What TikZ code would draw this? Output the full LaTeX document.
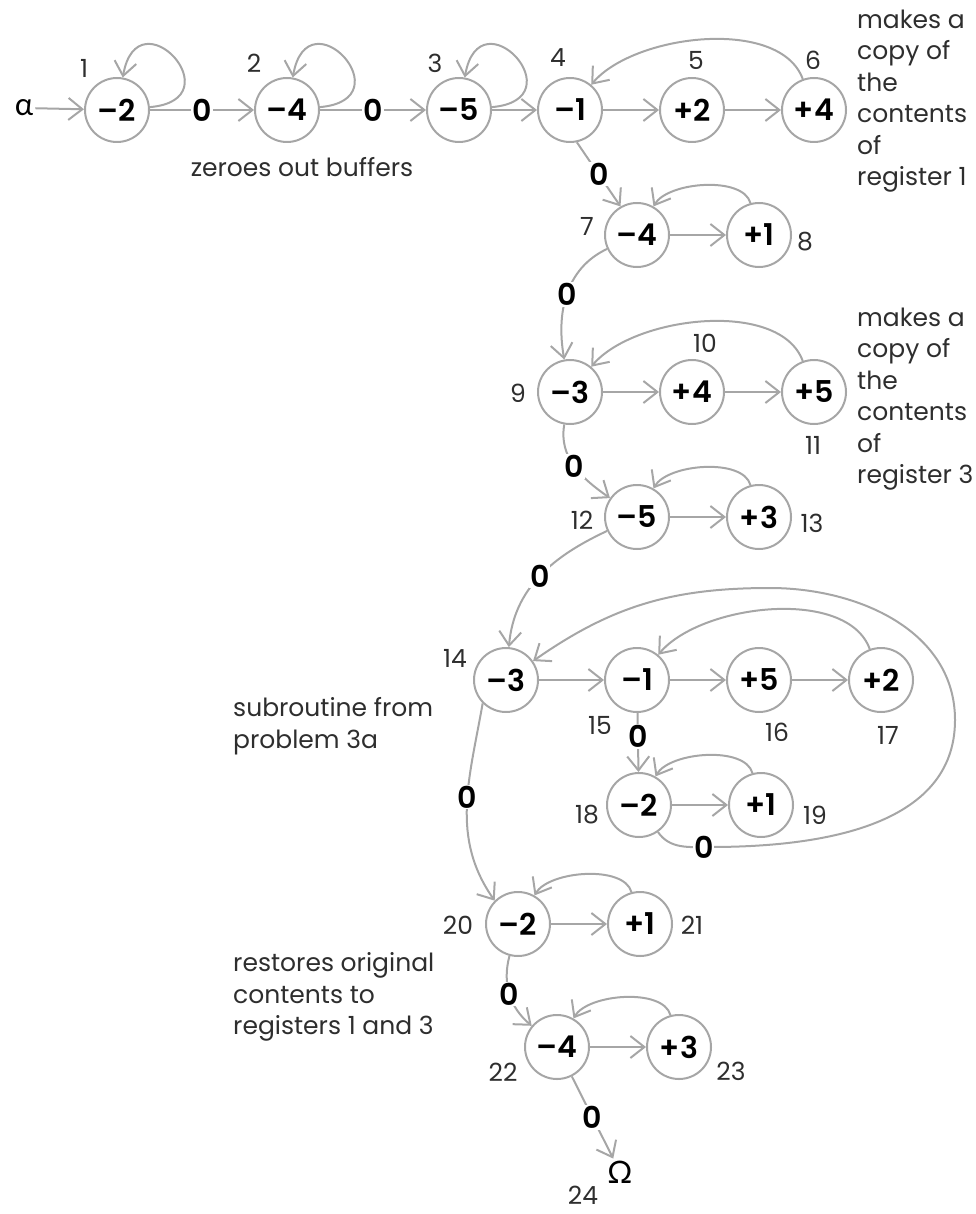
\documentclass[tikz,border=0pt]{standalone}
\usepackage{fontspec}
\setmainfont{Poppins}
\newfontfamily\semib{Poppins SemiBold}
\newfontfamily\greekf{Lato}
\usetikzlibrary{positioning,arrows.meta}
\definecolor{linegray}{HTML}{A6A6A6}
\definecolor{darktext}{HTML}{2E2E2E}

\begin{document}
\begin{tikzpicture}[x=1pt, y=-1pt, node distance=56pt,
    reg/.style={circle, draw=linegray, line width=2pt, minimum size=64pt, inner sep=0pt, font=\semib\fontsize{30}{30}\selectfont},
    num/.style={text=darktext, inner sep=0pt, font=\fontsize{25}{25}\selectfont},
    note/.style={text=darktext, inner sep=0pt, align=left, anchor=west, font=\fontsize{25}{31.5}\selectfont},
    zero/.style={fill=white, inner sep=1pt, font=\semib\fontsize{30}{30}\selectfont},
    greek/.style={inner sep=2pt, font=\greekf\fontsize{31}{31}\selectfont},
    arr/.style={draw=linegray, line width=2pt, -{Straight Barb[length=14pt,width=22pt]}}]
  \useasboundingbox (0,0) rectangle (976,1214);

  \node[greek] (alpha) at (24,108) {α};
  \node[reg] (n1) at (117,110) {–2};
  \node[reg] (n2) at (287,110) {–4};
  \node[reg] (n3) at (459,110) {–5};
  \node[reg] (n4) at (570,110) {–1};
  \node[reg, right=of n4] (n5) {+2};
  \node[reg, right=of n5] (n6) {+4};
  \node[reg] (n7) at (637,235) {–4};
  \node[reg, right=of n7] (n8) {+1};
  \node[reg] (n9) at (570,392) {–3};
  \node[reg, right=of n9] (n10) {+4};
  \node[reg, right=of n10] (n11) {+5};
  \node[reg] (n12) at (637,517) {–5};
  \node[reg, right=of n12] (n13) {+3};
  \node[reg] (n14) at (506,680) {–3};
  \node[reg] (n15) at (637,680) {–1};
  \node[reg, right=of n15] (n16) {+5};
  \node[reg, right=of n16] (n17) {+2};
  \node[reg] (n18) at (639,805) {–2};
  \node[reg, right=of n18] (n19) {+1};
  \node[reg] (n20) at (518,924) {–2};
  \node[reg, right=of n20] (n21) {+1};
  \node[reg] (n22) at (557,1047) {–4};
  \node[reg, right=of n22] (n23) {+3};
  \node[greek] (omega) at (620,1172) {Ω};

  \node[num] (l1) at (84,68) {1};
  \node[num] (l2) at (254,63) {2};
  \node[num] (l3) at (435,63) {3};
  \node[num] (l4) at (558,58) {4};
  \node[num] (l5) at (696,60) {5};
  \node[num] (l6) at (813,60) {6};
  \node[num] (l7) at (587,226) {7};
  \node[num] (l8) at (805,242) {8};
  \node[num] (l9) at (518,393) {9};
  \node[num] (l10) at (705,343) {10};
  \node[num] (l11) at (813,445) {11};
  \node[num] (l12) at (582,520) {12};
  \node[num] (l13) at (812,523) {13};
  \node[num] (l14) at (455,658) {14};
  \node[num] (l15) at (600,725) {15};
  \node[num] (l16) at (777,732) {16};
  \node[num] (l17) at (888,735) {17};
  \node[num] (l18) at (587,815) {18};
  \node[num] (l19) at (815,815) {19};
  \node[num] (l20) at (458,925) {20};
  \node[num] (l21) at (692,925) {21};
  \node[num] (l22) at (503,1072) {22};
  \node[num] (l23) at (731,1071) {23};
  \node[num] (l24) at (583,1195) {24};

  \node[note, anchor=center] (zeroes) at (302,167) {zeroes out buffers};
  \node[note] (copy1) at (857,101) {makes a\\copy of\\the\\contents\\of\\register 1};
  \node[note] (copy3) at (857,399) {makes a\\copy of\\the\\contents\\of\\register 3};
  \node[note] (subr) at (233,726) {subroutine from\\problem 3a};
  \node[note] (restore) at (233,997) {restores original\\contents to\\registers 1 and 3};

  \coordinate (lpb) at (710,847);
  \coordinate (lpr) at (955,720);
  \coordinate (lpt) at (770,588);

  % zeroing the buffers
  \draw[arr] (alpha) -- (n1);
  \draw[arr] (n1) to[out=5, in=80, looseness=5.5] (n1);
  \draw[arr] (n1) -- node[zero] {0} (n2);
  \draw[arr] (n2) to[out=5, in=80, looseness=5.5] (n2);
  \draw[arr] (n2) -- node[zero] {0} (n3);
  \draw[arr] (n3) to[out=5, in=80, looseness=5.5] (n3);
  \draw[arr] (n3) -- (n4);

  % copy of register 1
  \draw[arr] (n4) -- (n5);
  \draw[arr] (n5) -- (n6);
  \draw[arr] (n6) to[out=110, in=50, looseness=0.8] (n4);
  \draw[arr] (n4.-78) -- node[zero] {0} (n7.120);
  \draw[arr] (n7) -- (n8);
  \draw[arr] (n8) to[out=105, in=60, looseness=0.75] (n7);
  \draw[arr] (n7) to[out=205, in=100] node[zero] {0} (n9);

  % copy of register 3
  \draw[arr] (n9) -- (n10);
  \draw[arr] (n10) -- (n11);
  \draw[arr] (n11) to[out=110, in=50, looseness=0.8] (n9);
  \draw[arr] (n9) to[out=260, in=145] node[zero] {0} (n12);
  \draw[arr] (n12) -- (n13);
  \draw[arr] (n13) to[out=105, in=60, looseness=0.75] (n12);
  \draw[arr] (n12) to[out=205, in=85] node[zero] {0} (n14);

  % subroutine
  \draw[arr] (n14) -- (n15);
  \draw[arr] (n15) -- (n16);
  \draw[arr] (n16) -- (n17);
  \draw[arr] (n17) to[out=110, in=50, looseness=0.8] (n15);
  \draw[arr] (n15) -- node[zero, pos=0.4] {0} (n18);
  \draw[arr] (n18) -- (n19);
  \draw[arr] (n19) to[out=105, in=60, looseness=0.75] (n18);
  \draw[arr] (n18) to[out=-55, in=180] node[zero, pos=0.9] {0} (lpb)
    to[out=0, in=-90] (lpr) to[out=90, in=0] (lpt) to[out=180, in=35] (n14);

  % restoring
  \draw[arr] (n14.225) to[out=260, in=125] node[zero, pos=0.45] {0} (n20.135);
  \draw[arr] (n20) -- (n21);
  \draw[arr] (n21) to[out=105, in=60, looseness=0.75] (n20);
  \draw[arr] (n20) to[out=255, in=140] node[zero] {0} (n22);
  \draw[arr] (n22) -- (n23);
  \draw[arr] (n23) to[out=105, in=60, looseness=0.75] (n22);
  \draw[arr] (n22) -- node[zero] {0} (omega);
\end{tikzpicture}
\end{document}
